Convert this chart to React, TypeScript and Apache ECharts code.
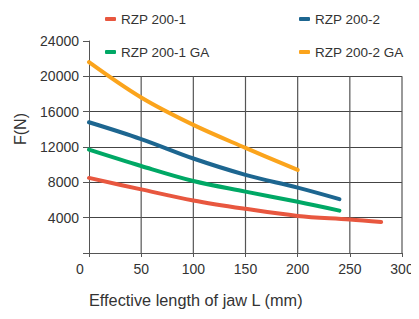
import React, { useEffect, useRef } from "react";
import * as echarts from "echarts";

const seriesNames = ["RZP 200-1", "RZP 200-2", "RZP 200-1 GA", "RZP 200-2 GA"];
const rzp2001: [number, number][] = [[0, 8500], [50, 7200], [100, 5950], [150, 5000], [200, 4200], [250, 3800], [280, 3500]];
const rzp2002: [number, number][] = [[0, 14800], [50, 12900], [100, 10700], [150, 8850], [200, 7400], [240, 6100]];
const rzp2001ga: [number, number][] = [[0, 11700], [50, 9850], [100, 8150], [150, 6950], [200, 5800], [240, 4800]];
const rzp2002ga: [number, number][] = [[0, 21600], [50, 17600], [100, 14500], [150, 11900], [200, 9400]];
const colors = ["#E8573F", "#1D6690", "#00A865", "#FBA41C"];
const xGridTicks = [50, 100, 150, 200, 250, 300];
const yMax = 24000;
const yGridTop = 20000;
const xTitle = "Effective length of jaw L (mm)";
const yTitle = "F(N)";

const FONT = "Liberation Sans, Arial, sans-serif";
const W = 419;
const H = 319;
const G = { left: 89, right: 17, top: 41, bottom: 66 };

export default function App() {
  const ref = useRef<HTMLDivElement>(null);
  useEffect(() => {
    if (!ref.current) return;
    const chart = echarts.init(ref.current, undefined, { renderer: "svg" });
    const datasets = [rzp2001, rzp2002, rzp2001ga, rzp2002ga];
    const series: any[] = datasets.map((d, i) => ({
      name: seriesNames[i],
      type: "line",
      data: d,
      smooth: 0.35,
      showSymbol: false,
      symbol: "none",
      z: 5,
      lineStyle: { width: 4, color: colors[i], cap: "round", join: "round" },
      itemStyle: { color: colors[i] },
    }));
    const legendBase = {
      orient: "vertical",
      icon: "roundRect",
      itemWidth: 11,
      itemHeight: 4,
      itemGap: 19,
      textStyle: { fontFamily: FONT, fontSize: 13.5, color: "#333" },
    };
    const texts: any[] = [
      {
        id: "xtitle",
        type: "text",
        left: 89,
        top: 292,
        z: 6,
        style: { text: xTitle, fontFamily: FONT, fontSize: 16.3, fill: "#333" },
      },
      {
        id: "ytitle",
        type: "text",
        x: 20,
        y: 129,
        z: 6,
        rotation: Math.PI / 2,
        style: {
          text: yTitle,
          fontFamily: FONT,
          fontSize: 16,
          fill: "#333",
          align: "center",
          verticalAlign: "middle",
        },
      },
    ];
    chart.setOption({
      animation: false,
      textStyle: { fontFamily: FONT },
      legend: [
        { ...legendBase, left: 100, top: 7, data: [seriesNames[0], seriesNames[2]] },
        { ...legendBase, left: 294, top: 7, data: [seriesNames[1], seriesNames[3]] },
      ],
      grid: { ...G, containLabel: false },
      xAxis: {
        type: "value",
        min: 0,
        max: 300,
        interval: 50,
        axisLine: { show: true, lineStyle: { color: "#555", width: 1 } },
        axisTick: { show: true, length: 4, lineStyle: { color: "#555" } },
        splitLine: { show: false },
        axisLabel: {
          fontFamily: FONT,
          fontSize: 14,
          color: "#333",
          margin: 9,
          formatter: (v: number) => (v === 0 ? "{z|0}" : String(v)),
          rich: { z: { fontFamily: FONT, fontSize: 14, color: "#333", padding: [0, 18, 0, 0] } },
        },
      },
      yAxis: {
        type: "value",
        min: 0,
        max: yMax,
        interval: 4000,
        axisLine: { show: true, lineStyle: { color: "#555", width: 1 } },
        axisTick: { show: true, length: 6, lineStyle: { color: "#555" } },
        splitLine: { show: true, showMaxLine: false, lineStyle: { color: "#444", width: 1.2 } },
        axisLabel: {
          fontFamily: FONT,
          fontSize: 14,
          color: "#333",
          margin: 10,
          formatter: (v: number) => (v === 0 ? "" : String(v)),
        },
      },
      graphic: { elements: texts },
      series,
    });
    const gridLines = xGridTicks.map((x, i) => {
      const p0 = chart.convertToPixel({ gridIndex: 0 }, [x, 0]) as number[];
      const p1 = chart.convertToPixel({ gridIndex: 0 }, [x, yGridTop]) as number[];
      return {
        id: "vgrid" + i,
        type: "line",
        silent: true,
        z: 3,
        shape: { x1: p0[0], y1: p0[1], x2: p1[0], y2: p1[1] },
        style: { stroke: "#555", lineWidth: 1.2 },
      };
    });
    chart.setOption({ graphic: { elements: [...texts, ...gridLines] } });
    return () => chart.dispose();
  }, []);
  return <div ref={ref} style={{ width: W, height: H, margin: -8 }} />;
}
